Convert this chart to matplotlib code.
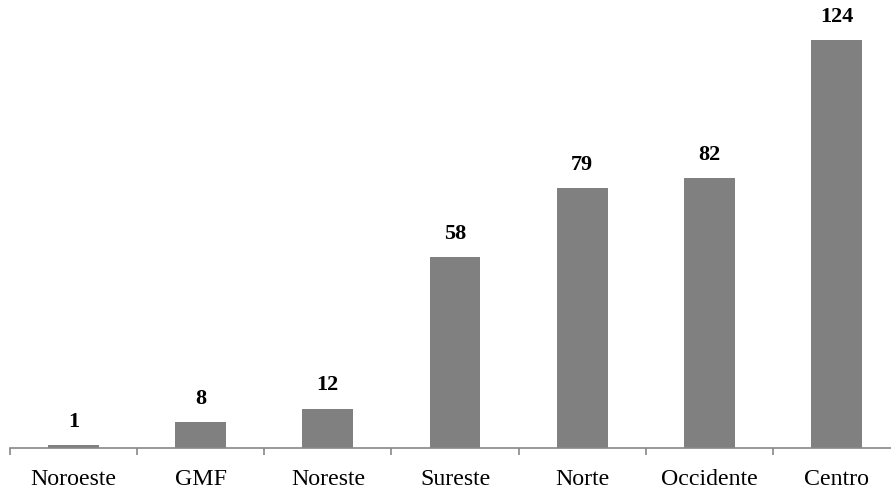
import matplotlib
matplotlib.use("Agg")
import matplotlib.pyplot as plt
import numpy as np

categories = ["Noroeste", "GMF", "Noreste", "Sureste", "Norte", "Occidente", "Centro"]
values = [1, 8, 12, 58, 79, 82, 124]

plt.rcParams['font.family'] = ['Liberation Serif', 'DejaVu Serif']

fig = plt.figure(figsize=(8.91, 4.91), dpi=100)
ax = fig.add_axes([10/891, 43/491, 890/891, 448/491])

x = np.arange(len(categories))
bars = ax.bar(x, values, width=0.4, color='#808080', zorder=2)

ax.set_xlim(-0.5, len(categories) - 0.5)
ax.set_ylim(0, 136.2)

for xi, v in zip(x, values):
    ax.annotate(str(v), (xi, v), xytext=(0, 13), textcoords='offset points',
                ha='center', va='baseline', fontsize=16, fontweight='bold', color='black')

for s in ['top', 'right', 'left']:
    ax.spines[s].set_visible(False)
ax.spines['bottom'].set_color('#888888')
ax.spines['bottom'].set_linewidth(1.2)
ax.set_yticks([])

ax.set_xticks(x)
ax.set_xticklabels(categories, fontsize=17.2)
ax.tick_params(axis='x', which='major', length=0, pad=15, colors='black')
ax.set_xticks(np.arange(len(categories)) - 0.5, minor=True)
ax.tick_params(axis='x', which='minor', length=5, width=1.2, color='#888888', direction='out')

fig.savefig("out.png", dpi=100)
